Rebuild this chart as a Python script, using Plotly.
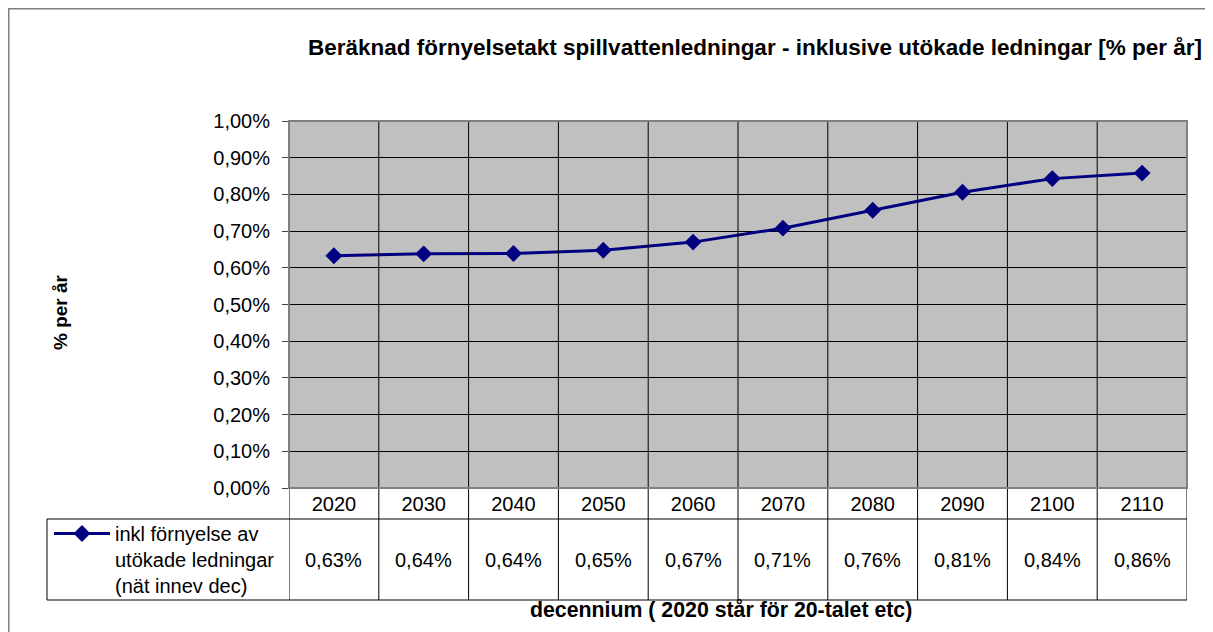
import plotly.graph_objects as go

# ---- data ----
decades = ["2020", "2030", "2040", "2050", "2060", "2070", "2080", "2090", "2100", "2110"]
rate_pct = [0.633, 0.638, 0.639, 0.648, 0.670, 0.708, 0.757, 0.806, 0.843, 0.858]
y_ticks = [0.0, 0.1, 0.2, 0.3, 0.4, 0.5, 0.6, 0.7, 0.8, 0.9, 1.0]
series_name = "inkl förnyelse av<br>utökade ledningar<br>(nät innev dec)"
title_text = "Beräknad förnyelsetakt spillvattenledningar - inklusive utökade ledningar [% per år]"
y_title = "% per år"
x_title = "decennium ( 2020 står för 20-talet etc)"

FONT = "Arial, Liberation Sans, sans-serif"
OFF = 8  # page body margin
W, H = 1213 - OFF, 632 - OFF
PLOT_L, PLOT_R, PLOT_T, PLOT_B = 289, 1187, 121, 488  # page coordinates
L = PLOT_L - OFF
T = PLOT_T - OFF
R = W - (PLOT_R - OFF)
B = H - (PLOT_B - OFF)
PW, PH = W - L - R, H - T - B


def px_x(p):
    return (p - PLOT_L) / PW


def px_y(p):
    return (PLOT_B - p) / PH


def fmt(v):
    return f"{v:.2f}".replace(".", ",") + "%"


xs = list(range(len(decades)))

fig = go.Figure()
fig.add_trace(go.Scatter(
    x=xs, y=rate_pct, mode="lines+markers", name=series_name,
    line=dict(color="#000080", width=3),
    marker=dict(symbol="diamond", size=13, color="#000080"),
))

shapes = []
# vertical grid / table column lines
for i in range(len(decades) + 1):
    shapes.append(dict(type="line", xref="x", yref="paper", x0=i - 0.5, x1=i - 0.5,
                       y0=px_y(600), y1=1, line=dict(color="black", width=1)))
# table horizontal lines
for yy in (519, 600):
    shapes.append(dict(type="line", xref="paper", yref="paper", x0=px_x(47), x1=1,
                       y0=px_y(yy), y1=px_y(yy), line=dict(color="black", width=1)))
shapes.append(dict(type="line", xref="paper", yref="paper", x0=px_x(47), x1=px_x(47),
                   y0=px_y(519), y1=px_y(600), line=dict(color="black", width=1)))
# plot border
shapes.append(dict(type="rect", xref="paper", yref="paper", x0=0, x1=1, y0=0, y1=1,
                   line=dict(color="#808080", width=2)))
# outer chart border
shapes.append(dict(type="rect", xref="paper", yref="paper", x0=px_x(8.5), x1=px_x(1240),
                   y0=px_y(660), y1=px_y(8.5), line=dict(color="#7f7f7f", width=2)))

annotations = []
for i, v in enumerate(rate_pct):
    annotations.append(dict(x=i, xref="x", y=px_y(560), yref="paper", text=fmt(v),
                            showarrow=False, font=dict(size=20, color="black", family=FONT),
                            xanchor="center", yanchor="middle"))
annotations.append(dict(x=px_x(60), xref="paper", y=px_y(312), yref="paper", text=f"<b>{y_title}</b>",
                        textangle=-90, showarrow=False, xanchor="center", yanchor="middle",
                        font=dict(size=19, color="black", family=FONT)))
annotations.append(dict(x=px_x(721), xref="paper", y=px_y(610), yref="paper", text=f"<b>{x_title}</b>",
                        showarrow=False, xanchor="center", yanchor="middle",
                        font=dict(size=21.3, color="black", family=FONT)))

fig.update_layout(
    width=W, height=H,
    margin=dict(l=L, r=R, t=T, b=B),
    paper_bgcolor="white", plot_bgcolor="#C0C0C0",
    font=dict(family=FONT, size=20, color="black"),
    title=dict(text=f"<b>{title_text}</b>", x=px_x(755), xref="paper", xanchor="center",
               y=1 - (47 - OFF) / H, yref="container", yanchor="middle",
               font=dict(size=22.5, color="black", family=FONT)),
    showlegend=True,
    legend=dict(x=px_x(49), y=px_y(514), xanchor="left", yanchor="top",
                bgcolor="rgba(0,0,0,0)", valign="top", itemwidth=56,
                font=dict(size=20, color="black", family=FONT)),
    xaxis=dict(range=[-0.5, len(decades) - 0.5], tickvals=xs, ticktext=decades,
               showgrid=False, zeroline=False, showline=False, ticks="",
               ticklabelstandoff=2, fixedrange=True),
    yaxis=dict(range=[0, 1.0], tickvals=y_ticks, ticktext=[fmt(t) for t in y_ticks],
               showgrid=True, gridcolor="black", gridwidth=1, zeroline=False,
               showline=False, ticks="outside", ticklen=6, tickcolor="#404040",
               ticklabelstandoff=8, fixedrange=True),
    shapes=shapes, annotations=annotations,
)

fig.write_html("out.html")
